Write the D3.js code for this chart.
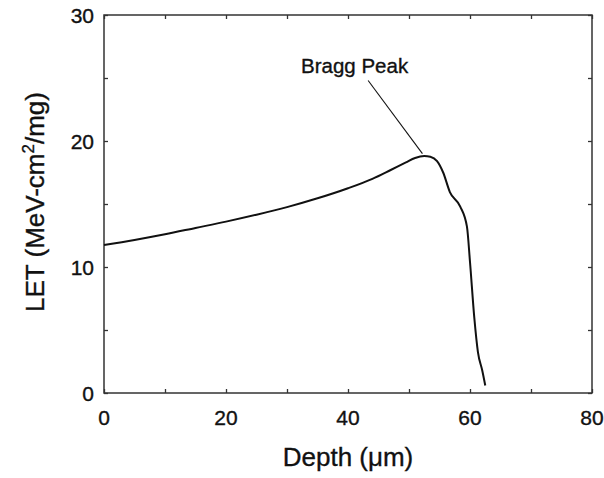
<!DOCTYPE html>
<html>
<head>
<meta charset="utf-8">
<script src="https://cdn.jsdelivr.net/npm/d3@7"></script>
<style>
  body { margin: 0; background: #fff; }
  text { font-family: "Liberation Sans", Arial, sans-serif; fill: #111; stroke: #111; stroke-width: 0.35px; }
</style>
</head>
<body>
<div id="chart"></div>
<script>
// depth (um) vs LET
const depth = [0, 5, 10, 15, 20, 25, 30, 35, 40, 44, 47, 49.5, 51, 52.5, 53.5, 54.6, 55.6, 56.7, 58.4, 59.5, 60, 60.7, 61.3, 62, 62.5];
const letVal = [11.75, 12.15, 12.6, 13.1, 13.6, 14.15, 14.75, 15.45, 16.25, 17.0, 17.7, 18.3, 18.65, 18.8, 18.75, 18.4, 17.5, 15.95, 14.8, 13.2, 10.4, 6.0, 3.25, 1.8, 0.6];

const xTicks = [0, 10, 20, 30, 40, 50, 60, 70, 80];
const xLabels = [0, 20, 40, 60, 80];
const yTicks = [0, 5, 10, 15, 20, 25, 30];
const yLabels = [0, 10, 20, 30];

const width = 604, height = 478;
const margin = {left: 104, right: 12, top: 15, bottom: 85};

const svg = d3.select("#chart")
    .append("svg")
    .attr("width", width)
    .attr("height", height);

const x = d3.scaleLinear().domain([0, 80]).range([margin.left, width - margin.right]);
const y = d3.scaleLinear().domain([0, 30]).range([height - margin.bottom, margin.top]);

const axisColor = "#333";

// frame
svg.append("rect")
    .attr("x", x(0)).attr("y", y(30))
    .attr("width", x(80) - x(0)).attr("height", y(0) - y(30))
    .attr("fill", "none")
    .attr("stroke", axisColor)
    .attr("stroke-width", 1.5);

// inward ticks on all four sides
function styleAxis(g) {
  g.select(".domain").remove();
  g.selectAll(".tick line").attr("stroke", axisColor).attr("stroke-width", 1.3);
}

svg.append("g")
    .attr("transform", "translate(0," + y(0) + ")")
    .call(d3.axisBottom(x).tickValues(xTicks).tickSize(-4).tickFormat(""))
    .call(styleAxis);
svg.append("g")
    .attr("transform", "translate(0," + y(30) + ")")
    .call(d3.axisTop(x).tickValues(xTicks).tickSize(-4).tickFormat(""))
    .call(styleAxis);
svg.append("g")
    .attr("transform", "translate(" + x(0) + ",0)")
    .call(d3.axisLeft(y).tickValues(yTicks).tickSize(-4).tickFormat(""))
    .call(styleAxis);
svg.append("g")
    .attr("transform", "translate(" + x(80) + ",0)")
    .call(d3.axisRight(y).tickValues(yTicks).tickSize(-4).tickFormat(""))
    .call(styleAxis);

// tick labels
svg.selectAll(".xlab")
    .data(xLabels)
    .enter()
    .append("text")
    .attr("class", "xlab")
    .attr("x", function(d) { return x(d); })
    .attr("y", y(0) + 32)
    .attr("text-anchor", "middle")
    .style("font-size", "21px")
    .text(function(d) { return d; });

svg.selectAll(".ylab")
    .data(yLabels)
    .enter()
    .append("text")
    .attr("class", "ylab")
    .attr("x", x(0) - 10)
    .attr("y", function(d) { return y(d) + 8; })
    .attr("text-anchor", "end")
    .style("font-size", "21px")
    .text(function(d) { return d; });

// axis titles
svg.append("text")
    .attr("x", (x(0) + x(80)) / 2)
    .attr("y", 466)
    .attr("text-anchor", "middle")
    .style("font-size", "26px")
    .text("Depth (\u03bcm)");

const yt = svg.append("text")
    .attr("transform", "translate(44," + ((y(0) + y(30)) / 2 - 2) + ") rotate(-90)")
    .attr("text-anchor", "middle")
    .style("font-size", "26px");
yt.append("tspan").text("LET (MeV-cm");
yt.append("tspan").attr("dy", -10).style("font-size", "17px").text("2");
yt.append("tspan").attr("dy", 10).text("/mg)");

// curve
const pts = depth.map(function(d, i) { return [d, letVal[i]]; });
const line = d3.line()
    .x(function(d) { return x(d[0]); })
    .y(function(d) { return y(d[1]); })
    .curve(d3.curveMonotoneX);

svg.append("path")
    .datum(pts)
    .attr("d", line)
    .attr("fill", "none")
    .attr("stroke", "#111")
    .attr("stroke-width", 2);

// Bragg peak annotation
svg.append("line")
    .attr("x1", x(43.3)).attr("y1", y(24.8))
    .attr("x2", x(52.2)).attr("y2", y(19.0))
    .attr("stroke", "#111")
    .attr("stroke-width", 1.1);

svg.append("text")
    .attr("x", x(32.3))
    .attr("y", y(25.4))
    .style("font-size", "20.5px")
    .text("Bragg Peak");
</script>
</body>
</html>
